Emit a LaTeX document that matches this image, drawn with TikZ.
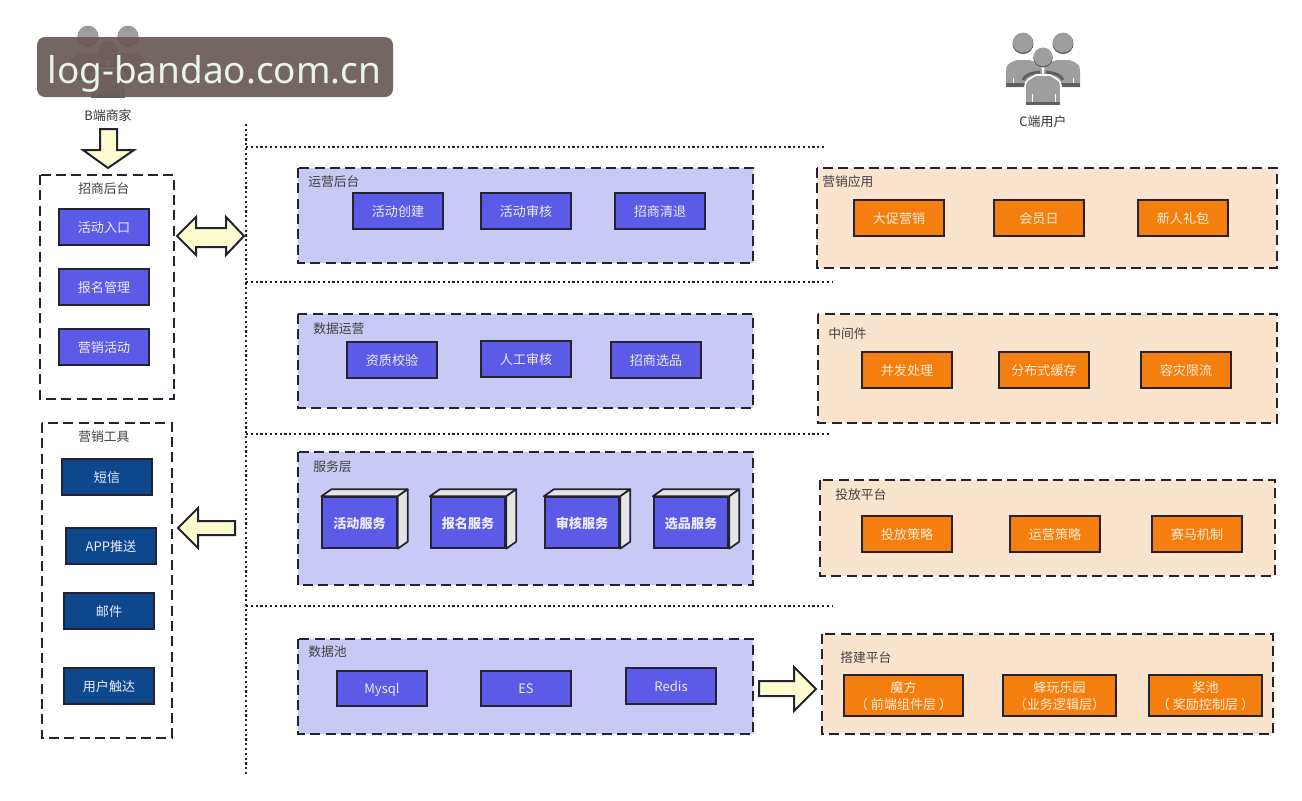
\documentclass[tikz,border=0pt]{standalone}
\usepackage{fontspec}
\usetikzlibrary{calc}
\setmainfont{Noto Sans CJK SC}
\newfontfamily\markfont{Noto Sans}
\definecolor{panelpurple}{RGB}{201,201,245}
\definecolor{panelorange}{RGB}{251,228,206}
\definecolor{btnblue}{RGB}{91,91,232}
\definecolor{btnnavy}{RGB}{14,72,140}
\definecolor{btnorange}{RGB}{245,127,14}
\definecolor{arrowyellow}{RGB}{253,253,208}
\definecolor{linedark}{RGB}{35,35,50}
\definecolor{markbrown}{RGB}{107,90,90}
\definecolor{markpale}{RGB}{232,245,232}
\definecolor{usergray}{RGB}{158,158,158}
\definecolor{userdark}{RGB}{95,95,95}
\tikzset{
  panelline/.style={draw=linedark,line width=1.5,dash pattern=on 7.5pt off 4pt},
  dotline/.style={draw=linedark,line width=1.6,dash pattern=on 1.6pt off 2pt},
  blockarrow/.style={draw=linedark,fill=arrowyellow,line width=1.5,line join=miter},
  title/.style={anchor=west,inner sep=0.75pt,text depth=0pt,font=\fontsize{9.6}{11}\selectfont,text=black!75},
  usertext/.style={inner sep=0.75pt,text depth=0pt,font=\fontsize{9.7}{11}\selectfont,text=black!80},
  btn/.style={draw=linedark,line width=1.3,minimum width=68pt,minimum height=26.5pt,inner sep=0pt,align=center,font=\fontsize{9.8}{12.6}\selectfont},
  btnb/.style={btn,text depth=0pt,fill=btnblue,text=white!92!blue},
  btnn/.style={btn,text depth=0pt,fill=btnnavy,text=white!92!blue},
  btno/.style={btn,text depth=0pt,fill=btnorange,text=white!85!orange},
  cube/.style={btnb,minimum width=56pt,minimum height=38pt,font=\fontsize{9.8}{11.5}\selectfont\bfseries},
  cubeface/.style={draw=linedark,fill=black!10,line width=1.3,line join=round},
  pics/usergroup/.style={code={
    \fill [usergray] (-37,30) -- (-37,13) .. controls (-37,7) and (-32,5) .. (-26,3) -- (-14,3) .. controls (-8,5) and (-1,7) .. (-1,13) -- (-1,30) -- cycle;
    \fill [usergray] (37,30) -- (37,13) .. controls (37,7) and (32,5) .. (26,3) -- (14,3) .. controls (8,5) and (1,7) .. (1,13) -- (1,30) -- cycle;
    \fill [userdark] (-37,26) rectangle (-1,30);
    \fill [userdark] (1,26) rectangle (37,30);
    \fill [userdark] (-20,-13.4) circle (10.5);
    \fill [userdark] (20,-13.4) circle (10.5);
    \fill [usergray] (-20,-14.4) circle (10);
    \fill [usergray] (20,-14.4) circle (10);
    \fill [white] (-30.5,21) rectangle (-29.5,26);
    \fill [white] (29.5,21) rectangle (30.5,26);
    \draw [userdark,line width=2.2] (-20,23) .. controls (-18,18) and (-12,16) .. (-3,15);
    \draw [userdark,line width=2.2] (20,23) .. controls (18,18) and (12,16) .. (3,15);
    \draw [white,line width=1.2,fill=usergray] (-18,48) -- (-18,29) .. controls (-18,23) and (-12,21) .. (-7,18) -- (7,18) .. controls (12,21) and (18,23) .. (18,29) -- (18,48) -- cycle;
    \fill [userdark] (-17.4,44.5) rectangle (17.4,47.5);
    \fill [white] (-11.5,37) rectangle (-10.5,44.5);
    \fill [white] (11.5,37) rectangle (12.5,44.5);
    \fill [userdark] (0,0.8) circle (9.7);
    \fill [usergray] (0,-0.2) circle (9.3);
  }},
}
\begin{document}
\begin{tikzpicture}[x=0.75pt,y=0.75pt,yscale=-1,xscale=1]
\useasboundingbox (0,0) rectangle (1302,800);

%Shape: user icons
\path (108,50) pic [yscale=-1] {usergroup};
\path (1043,57) pic [yscale=-1] {usergroup};

% Text Node
\draw (108,115) node [usertext] (buser) {B端商家};
% Text Node
\draw (1043,121) node [usertext] (cuser) {C端用户};

%Shape: dotted rules
\draw [dotline] (246,124) -- (246,776);
\draw [dotline] (246,147) -- (826,147);
\draw [dotline] (246,282) -- (832,282);
\draw [dotline] (246,434) -- (830,434);
\draw [dotline] (246,606) -- (832,606);

%Shape: left panels
\draw [panelline] (40,175) rectangle (174,399);
\draw [panelline] (42,423) rectangle (172,738);

%Shape: middle panels
\draw [panelline,fill=panelpurple] (298,168) rectangle (753,263);
\draw [panelline,fill=panelpurple] (298,314) rectangle (753,408);
\draw [panelline,fill=panelpurple] (298,452) rectangle (753,585);
\draw [panelline,fill=panelpurple] (298,639) rectangle (753,734);

%Shape: right panels
\draw [panelline,fill=panelorange] (817,168) rectangle (1277,268);
\draw [panelline,fill=panelorange] (818,314) rectangle (1277,423);
\draw [panelline,fill=panelorange] (820,480) rectangle (1275,576);
\draw [panelline,fill=panelorange] (822,634) rectangle (1273,734);

%Shape: block arrows
\draw [blockarrow] (100,129) -- (117,129) -- (117,150) -- (134,150) -- (108,168) -- (83,150) -- (100,150) -- cycle;
\draw [blockarrow] (177,236) -- (196,217) -- (196,228) -- (226,228) -- (226,217) -- (244,236) -- (226,255) -- (226,247) -- (196,247) -- (196,255) -- cycle;
\draw [blockarrow] (178,528) -- (198,508) -- (198,521) -- (235,521) -- (235,535) -- (198,535) -- (198,548) -- cycle;
\draw [blockarrow] (759,681) -- (794,681) -- (794,667) -- (816,689) -- (794,711) -- (794,696) -- (759,696) -- cycle;

% Text Node
\draw (77,188) node [title] (lbla) {招商后台};
\draw (77,436) node [title] (lblb) {营销工具};
\draw (307,181) node [title] (lblc) {运营后台};
\draw (312,328) node [title] (lbld) {数据运营};
\draw (312,466) node [title] (lble) {服务层};
\draw (307,651) node [title] (lblf) {数据池};
\draw (821,181) node [title] (lblg) {营销应用};
\draw (827,333) node [title] (lblh) {中间件};
\draw (834,494) node [title] (lbli) {投放平台};
\draw (839,657) node [title] (lblj) {搭建平台};

% Text Node
\draw (104,227) node [btnb] (entry) {活动入口};
\draw (104,287) node [btnb] (signup) {报名管理};
\draw (104,347) node [btnb] (activity) {营销活动};

% Text Node
\draw (107,477) node [btnn] (sms) {短信};
\draw (111,546) node [btnn] (apppush) {APP推送};
\draw (109,611) node [btnn] (mail) {邮件};
\draw (109,686) node [btnn] (reach) {用户触达};

% Text Node
\draw (398,211) node [btnb] (create) {活动创建};
\draw (526,211) node [btnb] (audit) {活动审核};
\draw (660,211) node [btnb] (retreat) {招商清退};

% Text Node
\draw (392,360) node [btnb] (qualify) {资质校验};
\draw (526,359) node [btnb] (manual) {人工审核};
\draw (656,360) node [btnb] (select) {招商选品};

% Text Node
\draw (359.5,522.5) node [cube] (cubea) {活动服务};
\draw (468,522.5) node [cube] (cubeb) {报名服务};
\draw (582,522.5) node [cube] (cubec) {审核服务};
\draw (691,522.5) node [cube] (cubed) {选品服务};

%Shape: cube faces
\draw [cubeface] (cubea.north west) -- ++(10,-7) -- ($(cubea.north east)+(10,-7)$) -- (cubea.north east) -- cycle;
\draw [cubeface] (cubea.north east) -- ++(10,-7) -- ($(cubea.south east)+(10,-7)$) -- (cubea.south east) -- cycle;
\draw [cubeface] (cubeb.north west) -- ++(10,-7) -- ($(cubeb.north east)+(10,-7)$) -- (cubeb.north east) -- cycle;
\draw [cubeface] (cubeb.north east) -- ++(10,-7) -- ($(cubeb.south east)+(10,-7)$) -- (cubeb.south east) -- cycle;
\draw [cubeface] (cubec.north west) -- ++(10,-7) -- ($(cubec.north east)+(10,-7)$) -- (cubec.north east) -- cycle;
\draw [cubeface] (cubec.north east) -- ++(10,-7) -- ($(cubec.south east)+(10,-7)$) -- (cubec.south east) -- cycle;
\draw [cubeface] (cubed.north west) -- ++(10,-7) -- ($(cubed.north east)+(10,-7)$) -- (cubed.north east) -- cycle;
\draw [cubeface] (cubed.north east) -- ++(10,-7) -- ($(cubed.south east)+(10,-7)$) -- (cubed.south east) -- cycle;

% Text Node
\draw (382,688.5) node [btnb] (mysql) {Mysql};
\draw (526,688.5) node [btnb] (es) {ES};
\draw (671,686) node [btnb] (redis) {Redis};

% Text Node
\draw (899,218) node [btno] (promo) {大促营销};
\draw (1039,218) node [btno] (member) {会员日};
\draw (1183,218) node [btno] (newgift) {新人礼包};

% Text Node
\draw (907,370) node [btno] (parallel) {并发处理};
\draw (1044,370) node [btno] (cache) {分布式缓存};
\draw (1186,370) node [btno] (limit) {容灾限流};

% Text Node
\draw (907,534) node [btno] (deliver) {投放策略};
\draw (1055,534) node [btno] (operate) {运营策略};
\draw (1197,534) node [btno] (horse) {赛马机制};

% Text Node
\draw (903.5,695.5) node [btno,minimum width=89pt,minimum height=30.5pt] (cube) {魔方\\（ 前端组件层 ）};
\draw (1059.5,695.5) node [btno,minimum width=84.5pt,minimum height=30.5pt] (park) {蜂玩乐园\\（业务逻辑层）};
\draw (1205.5,695.5) node [btno,minimum width=84.5pt,minimum height=30.5pt] (pool) {奖池\\（ 奖励控制层 ）};

%Shape: site mark
\draw [fill=markbrown,fill opacity=0.93,draw=none,rounded corners=6pt] (37,37) rectangle (393,97);
% Text Node
\draw (214.5,74) node [inner sep=0pt,text=markpale,font=\markfont\fontsize{27.7}{32}\selectfont] (sitemark) {log-bandao.com.cn};

\end{tikzpicture}
\end{document}
